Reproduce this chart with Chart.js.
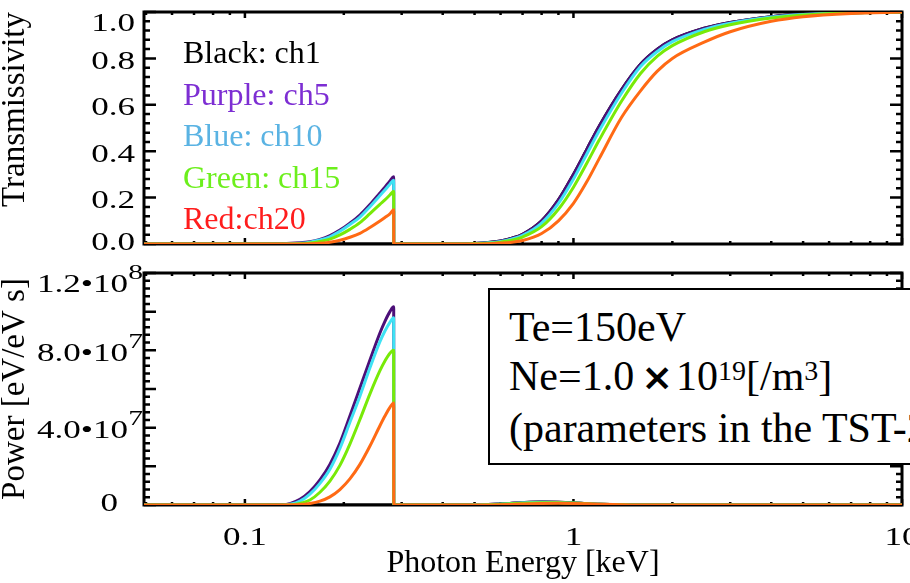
<!DOCTYPE html>
<html><head><meta charset="utf-8">
<script src="https://cdn.jsdelivr.net/npm/chart.js@4.4.0/dist/chart.umd.min.js"></script>
<style>
html,body{margin:0;padding:0;background:#fff;overflow:hidden;width:910px;height:583px;}
#wrap{position:relative;width:910px;height:583px;overflow:hidden;background:#fff;}
#c1{position:absolute;left:0;top:0;}
#c2{position:absolute;left:0;top:260px;}
#note{position:absolute;left:488px;top:288px;width:520px;height:173px;border:2px solid #000;background:#fff;font-family:'Liberation Serif','Times New Roman',serif;font-size:42px;color:#000;}
.ln{position:absolute;left:19px;white-space:nowrap;line-height:50px;height:50px;}
.sup{font-size:28px;position:relative;top:-10px;}
.mul{font-family:'DejaVu Sans',sans-serif;font-size:38px;font-weight:bold;padding:0 3px 0 7px;}
</style></head>
<body>
<div id="wrap">
<canvas id="c1" width="940" height="260"></canvas>
<canvas id="c2" width="940" height="323"></canvas>
<div id="note">
 <div class="ln" style="top:12px">Te=150eV</div>
 <div class="ln" style="top:61px">Ne=1.0<span class="mul">×</span>10<span class="sup">19</span>[/m<span class="sup">3</span>]</div>
 <div class="ln" style="top:113px">(parameters in the TST-2)</div>
</div>
</div>
<script>
// ---------- data (photon energy in keV) ----------
const energy = [0.0493, 0.1, 0.13, 0.147, 0.1577, 0.1692, 0.1814, 0.1946, 0.2087, 0.2239, 0.2402, 0.2576, 0.2668, 0.2763, 0.2837, 0.2839,
  0.35, 0.45, 0.5, 0.55, 0.6, 0.65, 0.7, 0.8, 0.9, 1.0, 1.1, 1.2, 1.4, 1.6, 1.8, 2.0, 2.5, 3, 4, 5, 7, 10];

const transCh1  = [0,0,0,0,0,0,0,0,0,0,0,0,0,0,0,0,
  0,0,0.002,0.006,0.013,0.025,0.042,0.10,0.19,0.30,0.41,0.51,0.665,0.775,0.84,0.88,0.93,0.955,0.98,0.99,0.997,1.0];
const transCh5  = [0,0,0.001,0.005,0.01,0.02,0.036,0.06,0.09,0.125,0.17,0.22,0.245,0.272,0.29,0,
  0,0,0.002,0.006,0.013,0.025,0.042,0.10,0.19,0.30,0.41,0.51,0.665,0.775,0.84,0.88,0.93,0.955,0.98,0.99,0.997,1.0];
const transCh10 = [0,0,0,0.003,0.008,0.017,0.031,0.055,0.084,0.116,0.161,0.209,0.233,0.258,0.275,0,
  0,0,0.002,0.005,0.011,0.022,0.037,0.09,0.175,0.28,0.39,0.49,0.65,0.765,0.83,0.872,0.925,0.952,0.978,0.989,0.997,1.0];
const transCh15 = [0,0,0,0.001,0.004,0.011,0.021,0.039,0.063,0.092,0.131,0.171,0.19,0.211,0.227,0,
  0,0,0.001,0.003,0.008,0.016,0.03,0.075,0.15,0.245,0.35,0.45,0.615,0.735,0.81,0.855,0.915,0.945,0.974,0.987,0.996,1.0];
const transCh20 = [0,0,0,0,0.001,0.003,0.008,0.016,0.029,0.046,0.071,0.099,0.114,0.13,0.148,0,
  0,0,0,0.001,0.004,0.008,0.015,0.045,0.10,0.175,0.27,0.37,0.545,0.66,0.745,0.80,0.87,0.915,0.96,0.98,0.994,1.0];

const powCh1  = [0,0,0,0,0,0,0,0,0,0,0,0,0,0,0,0,
  0,0,1e5,2e5,5e5,9e5,1.2e6,1.5e6,1.4e6,1.1e6,7e5,4e5,1e5,0,0,0,0,0,0,0,0,0];
const powCh5  = [0,0,1e5,3e6,7e6,1.3e7,2.1e7,3.2e7,4.6e7,6.05e7,7.5e7,8.9e7,9.5e7,1.0e8,1.025e8,0,
  0,0,1e5,2e5,5e5,9e5,1.2e6,1.5e6,1.4e6,1.1e6,7e5,4e5,1e5,0,0,0,0,0,0,0,0,0];
const powCh10 = [0,0,0,2e6,5.6e6,1.12e7,1.85e7,2.93e7,4.28e7,5.63e7,7.1e7,8.45e7,9.0e7,9.45e7,9.68e7,0,
  0,0,1e5,2e5,5e5,8e5,1.1e6,1.4e6,1.3e6,1.0e6,7e5,4e5,1e5,0,0,0,0,0,0,0,0,0];
const powCh15 = [0,0,0,8e5,2.6e6,6.6e6,1.24e7,2.05e7,3.15e7,4.42e7,5.75e7,6.95e7,7.45e7,7.85e7,8.0e7,0,
  0,0,0,1e5,4e5,7e5,9e5,1.2e6,1.2e6,1.0e6,7e5,4e5,1e5,0,0,0,0,0,0,0,0,0];
const powCh20 = [0,0,0,2e5,8e5,2.0e6,4.2e6,8.0e6,1.35e7,2.1e7,3.05e7,4.1e7,4.6e7,5.05e7,5.28e7,0,
  0,0,0,0,1e5,3e5,5e5,8e5,9e5,8e5,6e5,4e5,1e5,0,0,0,0,0,0,0,0,0];

const legendLabels = ['Black: ch1', 'Purple: ch5', 'Blue: ch10', 'Green: ch15', 'Red:ch20'];
const legendColors = ['#000000', '#7d2ed3', '#5ab3e3', '#6cef1c', '#ff1c1c'];
const lineColors   = ['#000000', '#4c0f78', '#3fe2f4', '#78ea08', '#ff6a14'];

const topYTicks  = [0, 0.2, 0.4, 0.6, 0.8, 1.0];
const topYLabels = ['0.0', '0.2', '0.4', '0.6', '0.8', '1.0'];
const botYTicks  = [0, 4e7, 8e7, 1.2e8];
const botYLabels = ['0', '4.0•10', '8.0•10', '1.2•10'];
const botYExp    = ['', '7', '7', '8'];
const xTicks     = [0.1, 1, 10];
const xLabels    = ['0.1', '1', '10'];

// ---------- helpers ----------
const SERIF = '"Liberation Serif","Times New Roman",serif';
const SX = 1.35; // horizontal stretch of tick label glyphs
function pts(vals){ return energy.map((e,i)=>({x:e, y:vals[i]})); }
function makeSets(list){
  // first dataset is drawn on top in Chart.js
  const order = [4,3,2,1,0];
  return order.map(k=>({data:pts(list[k]), borderColor:lineColors[k], borderWidth:3,
    pointRadius:0, fill:false, cubicInterpolationMode:'monotone'}));
}

function makeFramePlugin(cfg){
  return {
    id:'frame_'+cfg.name,
    beforeDatasetsDraw(chart){
      const ctx=chart.ctx, a=chart.chartArea, xs=chart.scales.x, ys=chart.scales.y;
      ctx.save();
      ctx.strokeStyle='#000';
      ctx.lineWidth=2.5;
      ctx.beginPath();
      for (const d of [0.01,0.1,1,10]) for (let k=1;k<=9;k++){
        const v=k*d; if (v<xs.min*0.9999||v>xs.max*1.0001) continue;
        const p=xs.getPixelForValue(v); const L=(k===1)?6:3;
        ctx.moveTo(p,a.top); ctx.lineTo(p,a.top+L);
        ctx.moveTo(p,a.bottom); ctx.lineTo(p,a.bottom-L);
      }
      const n=Math.round((ys.max-ys.min)/cfg.minorStep);
      for (let i=0;i<=n;i++){
        const v=ys.min+i*cfg.minorStep, p=ys.getPixelForValue(v);
        const L=(i%cfg.perMajor===0)?12:6;
        ctx.moveTo(a.left,p); ctx.lineTo(a.left+L,p);
        ctx.moveTo(a.right,p); ctx.lineTo(a.right-L,p);
      }
      ctx.stroke();
      ctx.lineWidth=3;
      ctx.strokeRect(a.left,a.top,a.right-a.left,a.bottom-a.top);
      ctx.restore();
    },
    afterDraw(chart){
      const ctx=chart.ctx, a=chart.chartArea, xs=chart.scales.x, ys=chart.scales.y;
      ctx.save();
      ctx.fillStyle='#000'; ctx.textBaseline='alphabetic';
      cfg.yTicks.forEach((v,i)=>{
        const p=ys.getPixelForValue(v);
        const c=Math.min(Math.max(p+2,a.top+10),a.bottom-3);
        const base=c+8.5;
        const exp=cfg.yExp?cfg.yExp[i]:'';
        const right=exp? a.left-1 : a.left-cfg.plainGap;
        ctx.save(); ctx.translate(right,base); ctx.scale(SX,1); ctx.textAlign='right';
        let w=0;
        if (exp){ ctx.font='22px '+SERIF; ctx.fillText(exp,0,-13); w=ctx.measureText(exp).width; }
        ctx.font='26px '+SERIF; ctx.fillText(cfg.yLabels[i],-w,0);
        ctx.restore();
      });
      if (cfg.xLabels){
        xTicks.forEach((v,i)=>{
          const p=xs.getPixelForValue(v);
          ctx.save(); ctx.translate(p,a.bottom+40); ctx.scale(SX,1); ctx.textAlign='center';
          ctx.font='26px '+SERIF; ctx.fillText(xLabels[i],0,0); ctx.restore();
        });
      }
      if (cfg.legend){
        ctx.font='32px '+SERIF; ctx.textAlign='left';
        legendLabels.forEach((t,i)=>{ ctx.fillStyle=legendColors[i]; ctx.fillText(t,183,63+i*41.5); });
      }
      ctx.restore();
    }
  };
}

Chart.defaults.font.family = SERIF;
Chart.defaults.color = '#000';

function baseOptions(padTop, yMin, yMax, xHeight, yTitle, yAlign, xTitle){
  return {
    responsive:false, maintainAspectRatio:false, animation:false,
    layout:{padding:{top:padTop, right:38, left:0, bottom:0}},
    plugins:{legend:{display:false}, tooltip:{enabled:false}},
    scales:{
      x:{type:'logarithmic', min:0.0493, max:10,
        ticks:{display:false}, grid:{display:false, drawTicks:false}, border:{display:false},
        title: xTitle ? {display:true, text:xTitle, color:'#000', padding:0,
          font:{family:SERIF, size:32, lineHeight:1.2}} : {display:false},
        afterFit(s){ s.height=xHeight; s.paddingLeft=0; s.paddingRight=0; }},
      y:{min:yMin, max:yMax,
        ticks:{display:false}, grid:{display:false, drawTicks:false}, border:{display:false},
        title:{display:true, text:yTitle, align:yAlign, color:'#000', padding:0,
          font:{family:SERIF, size:33, lineHeight:0.9}},
        afterFit(s){ s.width=144; s.paddingTop=0; s.paddingBottom=0; }}
    }
  };
}

new Chart(document.getElementById('c1'), {
  type:'line',
  data:{datasets:makeSets([transCh1,transCh5,transCh10,transCh15,transCh20])},
  options:baseOptions(12, 0, 1.0, 16, 'Transmissivity', 'end', null),
  plugins:[makeFramePlugin({name:'top', minorStep:0.04, perMajor:5, yTicks:topYTicks,
    yLabels:topYLabels, yExp:null, plainGap:9, xLabels:false, legend:true})]
});

new Chart(document.getElementById('c2'), {
  type:'line',
  data:{datasets:makeSets([powCh1,powCh5,powCh10,powCh15,powCh20])},
  options:baseOptions(13, 0, 1.2e8, 78, 'Power [eV/eV s]', 'center', 'Photon Energy [keV]'),
  plugins:[makeFramePlugin({name:'bot', minorStep:4e6, perMajor:5, yTicks:botYTicks,
    yLabels:botYLabels, yExp:botYExp, plainGap:26, xLabels:true, legend:false})]
});
</script>
</body></html>
